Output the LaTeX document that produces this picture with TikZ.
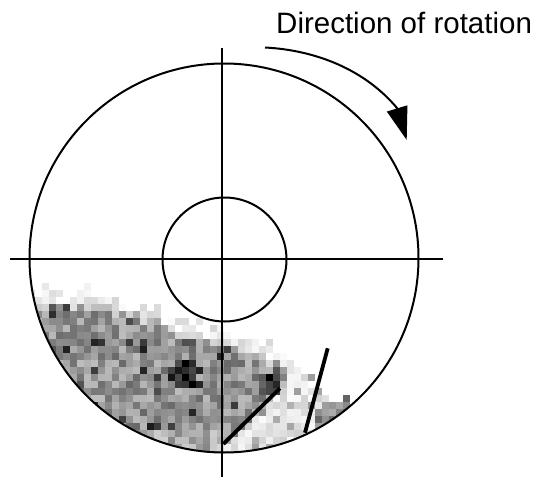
\documentclass[tikz,border=0pt]{standalone}
\usepackage{fontspec}
\setmainfont{Liberation Sans}
\usetikzlibrary{arrows.meta}
\begin{document}
\begin{tikzpicture}[x=1pt,y=-1pt,
  rule/.style={line width=2pt, black},
  bar/.style={line width=3.8pt, black},
  label/.style={anchor=base west, inner sep=0pt, font=\fontsize{29.5}{34}\selectfont}]
\useasboundingbox (0,0) rectangle (542,477);
\pgfmathsetseed{20240}
% ---- scattered grey cells, clipped to the disc ----
\begin{scope}
\clip (224,258) circle[radius=194.5pt];
\foreach \i/\T in {0/300,1/301,2/302,3/302,4/303,5/303,6/303,7/304,8/304,9/305,
  10/305,11/307,12/309,13/310,14/312,15/314,16/316,17/319,18/321,19/324,
  20/327,21/330,22/331,23/333,24/335,25/337,26/338,27/340,28/343,29/346,
  30/348,31/351,32/353,33/356,34/359,35/362,36/365,37/370,38/375,39/382,
  40/390,41/395,42/398,43/402,44/405,45/410,46/415}{
  \foreach \j in {0,...,27}{
    \pgfmathsetmacro{\xc}{31.5+7*\i}
    \pgfmathsetmacro{\yc}{272.5+7*\j}
    \pgfmathsetmacro{\d}{\yc-\T}
    \pgfmathsetmacro{\ra}{rnd}
    \pgfmathsetmacro{\rb}{rnd}
    \pgfmathsetmacro{\rc}{rnd}
    \pgfmathtruncatemacro{\vis}{((\d>=0)||(\rc<(\d+20)/25)) ? 1 : 0}
    \ifnum\vis>0
      \pgfmathsetmacro{\base}{(\d<0) ? (0.83+0.15*\ra) : (0.40+0.34*\ra+0.15*(\d<7))}
      \pgfmathsetmacro{\dk}{((\rb<0.07)&&(\d>=4)) ? (0.1+0.25*\ra) : \base}
      \pgfmathsetmacro{\cl}{0.35*(veclen(\xc-185,\yc-372)<15)+0.3*(veclen(\xc-268,\yc-384)<12)}
      \pgfmathtruncatemacro{\zA}{((\xc>226)&&(\yc>446-0.98*(\xc-223))) ? 1 : 0}
      \pgfmathtruncatemacro{\zB}{((\xc>285)&&(\d>=0)) ? 1 : 0}
      \pgfmathtruncatemacro{\edg}{((\xc>312)&&(veclen(\xc-224,\yc-258)>178)) ? 1 : 0}
      \pgfmathtruncatemacro{\zC}{((\xc>145)&&(\xc<222)&&(\yc>432)) ? 1 : 0}
      \pgfmathsetmacro{\L}{((\zA+\zB)>0) ? ((\edg>0) ? (0.35+0.35*\ra) : ((\rc<0.15) ? (0.55+0.15*\ra) : (0.8+0.18*\ra))) : (\dk-\cl+0.12*\zC)}
      \pgfmathtruncatemacro{\pct}{max(0,min(100,100*(1-\L)))}
      \ifnum\pct>1
        \fill[black!\pct] (\xc-3.6,\yc-3.6) rectangle ++(7.2,7.2);
      \fi
    \fi
  }
}
\end{scope}
% ---- axes and circles ----
\coordinate (hl) at (10,259.3);
\coordinate (hr) at (442.7,259.3);
\coordinate (vt) at (222.3,48.3);
\coordinate (vb) at (222.3,477);
\coordinate (oc) at (224,258);
\coordinate (ic) at (224.5,259.5);
\draw[rule] (hl) -- (hr);
\draw[rule] (vt) -- (vb);
\draw[rule] (oc) circle[radius=194.5pt];
\draw[rule] (ic) circle[radius=62pt];
% ---- two heavy bars ----
\coordinate (d1a) at (223.3,444);
\coordinate (d1b) at (280,388.3);
\coordinate (d2a) at (305,432.7);
\coordinate (d2b) at (327.7,348.3);
\draw[bar] (d1a) -- (d1b);
\draw[bar] (d2a) -- (d2b);
% ---- rotation arrow ----
\coordinate (as) at (265,47.5);
\coordinate (ab) at (397,108);
\coordinate (ae) at (406.7,140);
\draw[rule, -{Triangle[length=33pt,width=21pt]}] (as) .. controls (315.4,50.1) and (364.6,69.4) .. (ab) -- (ae);
\node[label] (title) at (276,33.3) {Direction of rotation};
\end{tikzpicture}
\end{document}
